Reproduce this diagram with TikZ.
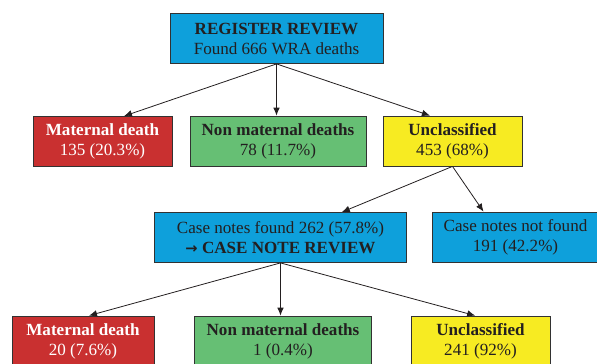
\documentclass[tikz,border=0pt]{standalone}
\usepackage{xcolor}
\usepackage{fontspec}
\setmainfont{Liberation Serif}
\newfontfamily\arrowfont{DejaVu Sans}
\usepackage{tikz}
\usetikzlibrary{arrows.meta}

\definecolor{revblue}{RGB}{14,160,219}
\definecolor{revred}{RGB}{201,48,48}
\definecolor{revgreen}{RGB}{102,191,116}
\definecolor{revyellow}{RGB}{247,235,34}
\definecolor{revtext}{RGB}{35,31,32}
\definecolor{revline}{RGB}{50,50,50}

\begin{document}
\begin{tikzpicture}[x=0.75pt,y=0.75pt,yscale=-1,xscale=1,
    revbox/.style={draw=revline, line width=0.6pt, inner sep=0pt, align=center,
        minimum height=37.5pt, text=revtext,
        font=\fontsize{12.8}{15}\selectfont},
    bluebox/.style={revbox, fill=revblue},
    redbox/.style={revbox, fill=revred, text=white},
    greenbox/.style={revbox, fill=revgreen},
    yellowbox/.style={revbox, fill=revyellow},
    flow/.style={draw=revtext, line width=0.6pt, -{Latex[length=6pt,width=5pt]}}]
        \useasboundingbox (0,0) rectangle (597,364);
        \draw (276.5,38.5) node [bluebox, minimum width=159.75pt] (register) {\textbf{REGISTER REVIEW}\\Found 666 WRA deaths};
        \draw (102.5,141.5) node [redbox, minimum width=104.25pt] (mat1) {\textbf{Maternal death}\\135 (20.3\%)};
        \draw (278,141) node [greenbox, minimum width=132pt] (non1) {\textbf{Non maternal deaths}\\78 (11.7\%)};
        \draw (452.5,141) node [yellowbox, minimum width=104.25pt] (unc1) {\textbf{Unclassified}\\453 (68\%)};
        \draw (280.5,237.5) node [bluebox, minimum width=189pt] (found) {Case notes found 262 (57.8\%)\\{\arrowfont\bfseries\fontsize{11}{15}\selectfont →} \textbf{CASE NOTE REVIEW}};
        \draw (515.5,237) node [bluebox, minimum width=124.5pt] (notfound) {Case notes not found\\191 (42.2\%)};
        \draw (83,341) node [redbox, minimum width=106.5pt] (mat2) {\textbf{Maternal death}\\20 (7.6\%)};
        \draw (283,341) node [greenbox, minimum width=132.75pt] (non2) {\textbf{Non maternal deaths}\\1 (0.4\%)};
        \draw (480.5,341) node [yellowbox, minimum width=104.25pt] (unc2) {\textbf{Unclassified}\\241 (92\%)};
        % register review split
        \draw [flow] (register.south) -- ([xshift=16.1pt]mat1.north);
        \draw [flow] (register.south) -- (register.south |- non1.north);
        \draw [flow] (register.south) -- ([xshift=-16.9pt]unc1.north);
        % unclassified: case notes
        \draw [flow] (unc1.south) -- ([xshift=46pt]found.north);
        \draw [flow] (unc1.south) -- ([xshift=-24pt]notfound.north);
        % case note review split
        \draw [flow] (found.south) -- ([xshift=4.5pt]mat2.north);
        \draw [flow] (found.south) -- (found.south |- non2.north);
        \draw [flow] (found.south) -- ([xshift=-4pt]unc2.north);
\end{tikzpicture}
\end{document}
